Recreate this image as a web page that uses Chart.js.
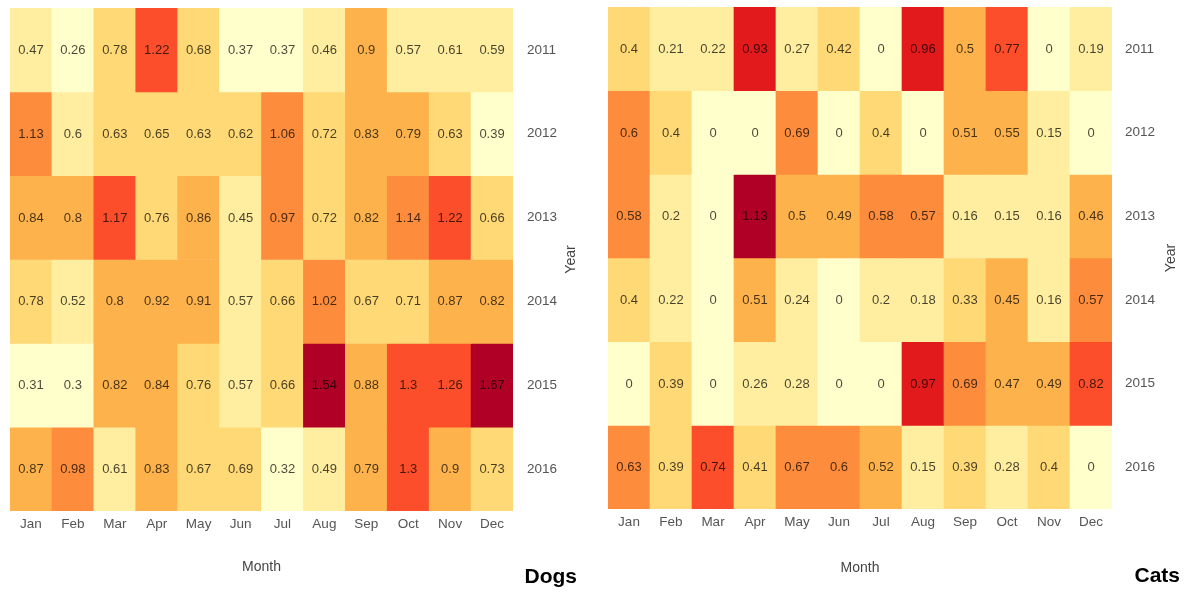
<!DOCTYPE html>
<html>
<head>
<meta charset="utf-8">
<script src="https://cdn.jsdelivr.net/npm/chart.js@4.4.1/dist/chart.umd.min.js"></script>
<style>
  body { margin: 0; background: #fff; overflow: hidden; }
  canvas { position: absolute; top: 0; }
  #dogs { left: 0; }
  #cats { left: 592px; }
</style>
</head>
<body>
<canvas id="dogs" width="592" height="593"></canvas>
<canvas id="cats" width="592" height="593"></canvas>
<script>
const months = ['Jan', 'Feb', 'Mar', 'Apr', 'May', 'Jun', 'Jul', 'Aug', 'Sep', 'Oct', 'Nov', 'Dec'];
const years = ['2011', '2012', '2013', '2014', '2015', '2016'];

// one row per year, Jan..Dec
const dogs = [
  [0.47, 0.26, 0.78, 1.22, 0.68, 0.37, 0.37, 0.46, 0.9, 0.57, 0.61, 0.59],
  [1.13, 0.6, 0.63, 0.65, 0.63, 0.62, 1.06, 0.72, 0.83, 0.79, 0.63, 0.39],
  [0.84, 0.8, 1.17, 0.76, 0.86, 0.45, 0.97, 0.72, 0.82, 1.14, 1.22, 0.66],
  [0.78, 0.52, 0.8, 0.92, 0.91, 0.57, 0.66, 1.02, 0.67, 0.71, 0.87, 0.82],
  [0.31, 0.3, 0.82, 0.84, 0.76, 0.57, 0.66, 1.54, 0.88, 1.3, 1.26, 1.67],
  [0.87, 0.98, 0.61, 0.83, 0.67, 0.69, 0.32, 0.49, 0.79, 1.3, 0.9, 0.73]
];
const cats = [
  [0.4, 0.21, 0.22, 0.93, 0.27, 0.42, 0, 0.96, 0.5, 0.77, 0, 0.19],
  [0.6, 0.4, 0, 0, 0.69, 0, 0.4, 0, 0.51, 0.55, 0.15, 0],
  [0.58, 0.2, 0, 1.13, 0.5, 0.49, 0.58, 0.57, 0.16, 0.15, 0.16, 0.46],
  [0.4, 0.22, 0, 0.51, 0.24, 0, 0.2, 0.18, 0.33, 0.45, 0.16, 0.57],
  [0, 0.39, 0, 0.26, 0.28, 0, 0, 0.97, 0.69, 0.47, 0.49, 0.82],
  [0.63, 0.39, 0.74, 0.41, 0.67, 0.6, 0.52, 0.15, 0.39, 0.28, 0.4, 0]
];

// binned YlOrRd colours
const palette = ['#ffffcc', '#ffeda0', '#fed976', '#feb24c', '#fd8d3c', '#fc4e2a', '#e31a1c', '#b10026'];
const dogBreaks = [0.4, 0.615, 0.785, 0.95, 1.155, 1.4, 1.5];
const catBreaks = [0.01, 0.3, 0.44, 0.56, 0.72, 0.9, 1.0];

const FONT = '"Liberation Sans", Arial, Helvetica, sans-serif';

function binColor(v, breaks) {
  let i = 0;
  while (i < breaks.length && v >= breaks[i]) i++;
  return palette[i];
}

function makeChart(id, values, breaks, name, lay) {
  const datasets = years.map((yr, r) => ({
    label: yr,
    data: months.map(() => [r, r + 1]),
    backgroundColor: values[r].map(v => binColor(v, breaks)),
    borderWidth: 0,
    grouped: false,
    barPercentage: 1,
    categoryPercentage: 1
  }));

  // value text inside each cell
  const cellText = {
    id: 'cellText',
    afterDatasetsDraw(chart) {
      const ctx = chart.ctx;
      ctx.save();
      ctx.font = '13px ' + FONT;
      ctx.textAlign = 'center';
      ctx.textBaseline = 'middle';
      ctx.fillStyle = 'rgba(0,0,0,0.72)';
      chart.data.datasets.forEach((ds, r) => {
        chart.getDatasetMeta(r).data.forEach((bar, c) => {
          const p = bar.getProps(['x', 'y', 'base'], true);
          ctx.fillText(String(values[r][c]), p.x, (p.y + p.base) / 2 + 0.5);
        });
      });
      ctx.restore();
    }
  };

  // rotated "Year" and the panel name
  const extraText = {
    id: 'extraText',
    afterDraw(chart) {
      const ctx = chart.ctx;
      const a = chart.chartArea;
      ctx.save();
      ctx.fillStyle = '#444';
      ctx.font = '14px ' + FONT;
      ctx.textAlign = 'center';
      ctx.textBaseline = 'middle';
      ctx.translate(lay.yearX, (a.top + a.bottom) / 2);
      ctx.rotate(-Math.PI / 2);
      ctx.fillText('Year', 0, 0);
      ctx.restore();

      ctx.save();
      ctx.fillStyle = '#000';
      ctx.font = 'bold 21px ' + FONT;
      ctx.textAlign = 'right';
      ctx.textBaseline = 'middle';
      ctx.fillText(name, lay.titleRight, lay.titleY);
      ctx.restore();
    }
  };

  return new Chart(document.getElementById(id), {
    type: 'bar',
    data: { labels: months, datasets: datasets },
    options: {
      responsive: false,
      animation: false,
      layout: { padding: { left: lay.left, top: lay.top, right: 0, bottom: 0 } },
      plugins: {
        legend: { display: false },
        tooltip: { enabled: false }
      },
      scales: {
        x: {
          grid: { display: false, drawTicks: false },
          border: { display: false },
          ticks: { padding: 5, color: '#555', font: { family: FONT, size: 13.5 } },
          title: {
            display: true,
            text: 'Month',
            color: '#444',
            font: { family: FONT, size: 14 },
            padding: { top: 0, bottom: lay.monthPad }
          },
          afterFit: s => { s.height = lay.xh; s.paddingLeft = 0; s.paddingRight = 0; }
        },
        y: {
          type: 'linear',
          position: 'right',
          reverse: true,
          min: 0,
          max: 6,
          grid: { display: false, drawTicks: false },
          border: { display: false },
          afterBuildTicks: s => { s.ticks = years.map((y, i) => ({ value: i + 0.5 })); },
          ticks: {
            padding: lay.tp,
            color: '#555',
            font: { family: FONT, size: 13.5 },
            callback: (v, i) => years[i]
          },
          afterFit: s => { s.width = lay.yw; s.paddingTop = 0; s.paddingBottom = 0; }
        }
      }
    },
    plugins: [cellText, extraText]
  });
}

makeChart('dogs', dogs, dogBreaks, 'Dogs',
  { left: 10, top: 8, yw: 79, xh: 82, tp: 14, monthPad: 17.6, yearX: 571, titleRight: 577, titleY: 577 });
makeChart('cats', cats, catBreaks, 'Cats',
  { left: 16, top: 7, yw: 72, xh: 84, tp: 13, monthPad: 16.6, yearX: 579, titleRight: 588, titleY: 576 });
</script>
</body>
</html>
